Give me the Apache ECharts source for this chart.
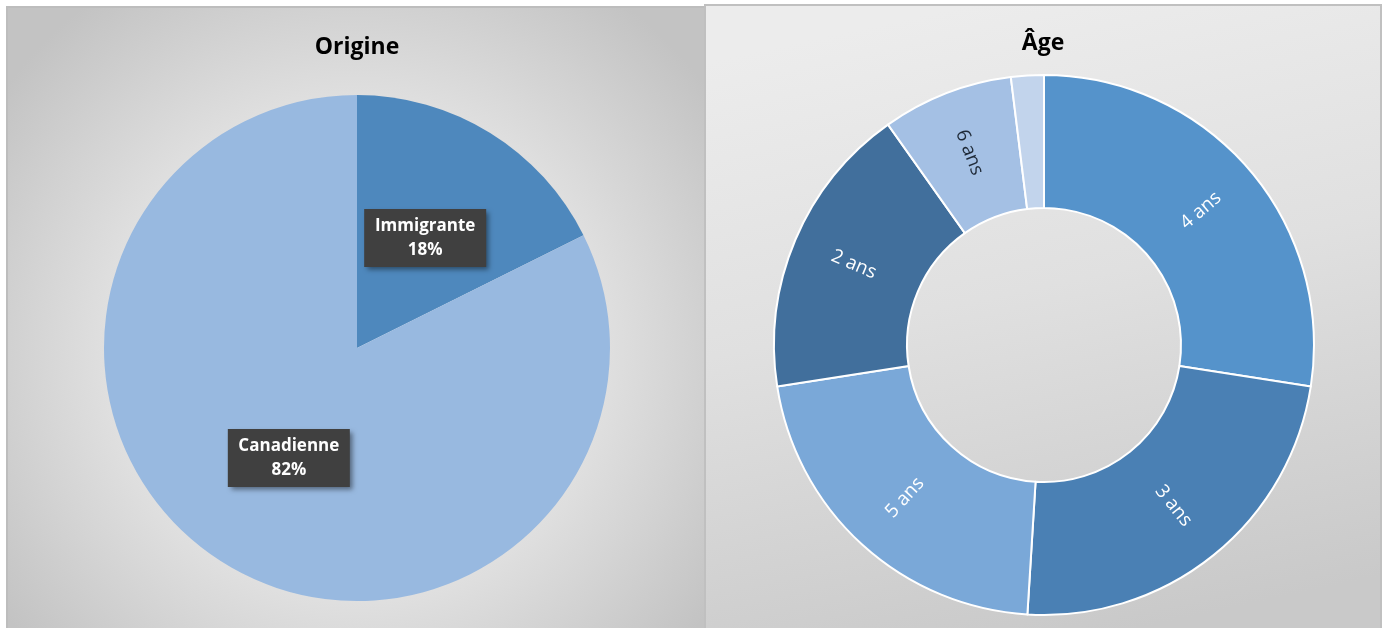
<!DOCTYPE html>
<html>
<head>
<meta charset="utf-8">
<script src="https://cdn.jsdelivr.net/npm/echarts@6/dist/echarts.min.js"></script>
<style>
	html,body{margin:0;padding:0;background:#ffffff;}
	#main{width:1384px;height:628px;}
</style>
</head>
<body>
<div id="main"></div>
<script>
// Origine
var origineNames = ['Immigrante', 'Canadienne'];
var origineValues = [9, 42];
var origineColors = ['#4e88bd', '#98b9e0'];

// Âge
var ageNames = ['4 ans', '3 ans', '5 ans', '2 ans', '6 ans', '7 ans'];
var ageValues = [14, 12, 11, 9, 4, 1];
var ageColors = ['#5593cb', '#4a80b4', '#7aa8d8', '#416f9c', '#a4c0e4', '#c2d4ec'];
var ageLabelColors = ['#ffffff', '#ffffff', '#ffffff', '#ffffff', '#1f2a38', '#1f2a38'];

function buildOrigine(){
	var arr = [];
	for (var i = 0; i < origineNames.length; i++){
		arr.push({name: origineNames[i], value: origineValues[i], itemStyle: {color: origineColors[i]}});
	}
	return arr;
}

function buildAge(){
	var arr = [];
	for (var i = 0; i < ageNames.length; i++){
		arr.push({
			name: ageNames[i],
			value: ageValues[i],
			itemStyle: {color: ageColors[i]},
			label: {show: i < 5, color: ageLabelColors[i]}
		});
	}
	return arr;
}

var myChart = echarts.init(document.getElementById('main'));
myChart.setOption({
	animation: false,
	graphic: [
		{
			type: 'rect', z: -10,
			shape: {x: 7, y: 7, width: 698, height: 625},
			style: {
				fill: new echarts.graphic.RadialGradient(0.5, 0.55, 0.7, [
					{offset: 0, color: '#f3f3f3'},
					{offset: 0.5, color: '#e4e4e4'},
					{offset: 1, color: '#c3c3c3'}
				]),
				stroke: '#bdbdbd', lineWidth: 2
			}
		},
		{
			type: 'rect', z: -9,
			shape: {x: 705, y: 5, width: 676, height: 628},
			style: {
				fill: new echarts.graphic.LinearGradient(0.4, 0, 0.6, 1, [
					{offset: 0, color: '#ececec'},
					{offset: 0.45, color: '#e0e0e0'},
					{offset: 1, color: '#c9c9c9'}
				]),
				stroke: '#c0c0c0', lineWidth: 2
			}
		}
	],
	title: [
		{
			text: 'Origine',
			left: 352, top: 31,
			textAlign: 'center',
			textStyle: {fontFamily: 'Open Sans', fontWeight: 'bold', fontSize: 23, color: '#000000'}
		},
		{
			text: 'Âge',
			left: 1038, top: 27,
			textAlign: 'center',
			textStyle: {fontFamily: 'Open Sans', fontWeight: 'bold', fontSize: 23, color: '#000000'}
		}
	],
	series: [
		{
			name: 'Origine',
			type: 'pie',
			center: [357, 348],
			radius: [0, 253],
			startAngle: 90,
			clockwise: true,
			itemStyle: {borderWidth: 0},
			label: {
				show: true,
				position: 'inside',
				formatter: function(p){ return p.name + '\n' + Math.round(p.percent) + '%'; },
				color: '#ffffff',
				fontFamily: 'Open Sans',
				fontWeight: 'bold',
				fontSize: 17,
				lineHeight: 24,
				backgroundColor: '#404040',
				width: 106,
				align: 'center',
				padding: [5, 8, 5, 8],
				shadowColor: 'rgba(0,0,0,0.45)',
				shadowBlur: 5,
				shadowOffsetX: 3,
				shadowOffsetY: 3
			},
			labelLine: {show: false},
			emphasis: {disabled: true},
			data: buildOrigine()
		},
		{
			name: 'Âge',
			type: 'pie',
			center: [1044, 345],
			radius: [137, 270],
			startAngle: 90,
			clockwise: true,
			itemStyle: {borderColor: '#ffffff', borderWidth: 2},
			label: {
				show: true,
				position: 'inside',
				rotate: 'radial',
				formatter: '{b}',
				fontFamily: 'Open Sans',
				fontSize: 19
			},
			labelLine: {show: false},
			emphasis: {disabled: true},
			data: buildAge()
		}
	]
});
</script>
</body>
</html>
